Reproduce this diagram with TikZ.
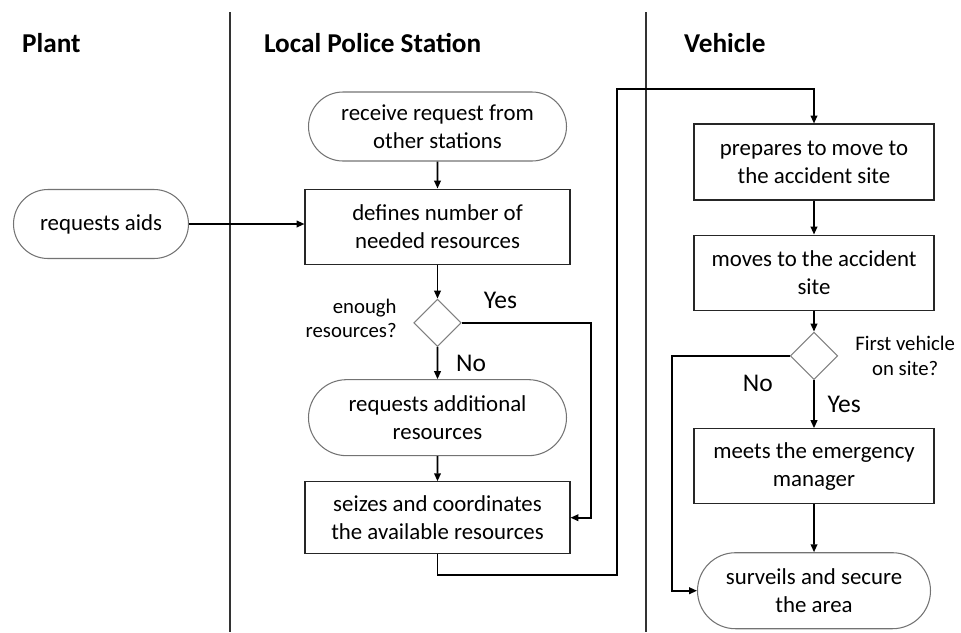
\documentclass[tikz,border=0pt]{standalone}
\usepackage{fontspec}
\setmainfont{Carlito}
\usetikzlibrary{arrows.meta, positioning, shapes.geometric, shapes.misc}

\begin{document}
\begin{tikzpicture}[
  proc/.style={draw=black!85, line width=0.6pt, align=center, inner sep=2pt,
               minimum width=5.3cm, minimum height=1.5cm, font=\fontsize{13}{16}\selectfont},
  term/.style={proc, draw=black!55, rounded rectangle},
  dec/.style={diamond, aspect=1, draw=black!50, line width=0.6pt, minimum size=0.95cm, inner sep=0pt},
  flow/.style={draw, line width=0.9pt, -{Triangle[length=4.5pt,width=3.8pt]}},
  lane/.style={draw=black!80, line width=0.6pt},
  head/.style={anchor=west, inner sep=1pt, font=\fontsize{15.5}{18}\selectfont\bfseries},
  note/.style={inner sep=1pt, font=\fontsize{11.8}{14}\selectfont},
  ans/.style={inner sep=1pt, font=\fontsize{14.5}{17}\selectfont},
]
  \useasboundingbox (0,0) rectangle (19.22,-12.64);

  \draw[lane] (4.6,-0.24) -- (4.6,-12.64);
  \draw[lane] (12.92,-0.24) -- (12.92,-12.64);

  \node[head] (hplant) at (0.4,-0.86) {Plant};
  \node[head] (hpolice) at (5.24,-0.86) {Local Police Station};
  \node[head] (hvehicle) at (13.64,-0.86) {Vehicle};

  \node[term, minimum width=3.64cm, minimum height=1.38cm] (aids) at (2.02,-4.48) {requests aids};

  \node[term, minimum height=1.38cm] (recv) at (8.75,-2.53) {receive request from\\other stations};
  \node[proc, below=0.54cm of recv] (def) {defines number of\\needed resources};
  \node[dec, below=0.68cm of def] (enough) {};
  \node[note, align=right, left=0.29cm of enough, yshift=0.09cm] (enoughq) {enough\\resources?};
  \node[term, minimum height=1.52cm, below=0.64cm of enough] (reqadd) {requests additional\\resources};
  \node[proc, minimum height=1.44cm, below=0.5cm of reqadd] (seize) {seizes and coordinates\\the available resources};

  \node[proc, minimum width=4.8cm, minimum height=1.52cm] (prep) at (16.28,-3.24) {prepares to move to\\the accident site};
  \node[proc, minimum width=4.8cm, below=0.68cm of prep] (move) {moves to the accident\\site};
  \node[dec, below=0.42cm of move] (first) {};
  \node[note, align=center, right=0.3cm of first] (firstq) {First vehicle\\on site?};
  \node[proc, minimum width=4.8cm, below=0.96cm of first] (meet) {meets the emergency\\manager};
  \node[term, minimum width=4.8cm, minimum height=1.52cm, below=0.96cm of meet] (surv) {surveils and secure\\the area};

  \coordinate (jump) at (12.34,-1.78);

  \draw[flow] (aids.east) -- (aids.east -| def.west);
  \draw[flow] (recv) -- (def);
  \draw[flow] (def) -- (enough);
  \draw[flow] (enough) -- node[ans, right=0.32cm] {No} (reqadd);
  \draw[flow] (enough.east) -- node[ans, above=0.24cm, pos=0.3] {Yes} ++(2.58,0) |- (seize.east);
  \draw[flow] (reqadd) -- (seize);
  \draw[flow] (seize.south) -- ++(0,-0.42) -| (jump) -| (prep.north);

  \draw[flow] (prep) -- (move);
  \draw[flow] (move) -- (first);
  \draw[flow] (first) -- node[ans, right=0.22cm] {Yes} (meet);
  \draw[flow] (first.west) -- node[ans, below=0.33cm, pos=0.27] {No} ++(-2.36,0) |- (surv.west);
  \draw[flow] (meet) -- (surv);
\end{tikzpicture}
\end{document}
